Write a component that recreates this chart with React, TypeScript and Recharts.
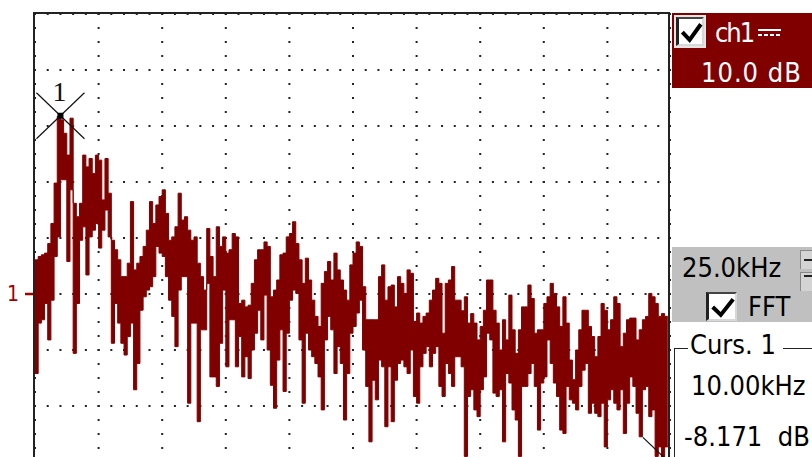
import {
  ComposedChart,
  Area,
  XAxis,
  YAxis,
  CartesianGrid,
  ReferenceDot,
} from "recharts";

// FFT bins, 1.25 kHz wide, 25 kHz / div
const binWidthKHz = 1.25;
const freqTicksKHz = [25, 50, 75, 100, 125, 150, 175, 200, 225];
const levelTicksDb = [-60, -50, -40, -30, -20, -10, 0];
const refLevelDb = -40;

// top of the trace in each bin (dB)
const peakDb = [
  -33.9, -33.3, -33.0, -32.7, -31.0, -27.4, -20.2, -8.3, -8.9, -11.3,
  -15.2, -8.6, -23.8, -26.2, -23.8, -15.2, -17.3, -15.8, -18.5, -15.2,
  -16.1, -23.2, -15.8, -22.0, -30.4, -32.1, -33.9, -36.9, -36.9, -34.5,
  -23.5, -35.7, -34.5, -33.3, -31.5, -28.6, -23.5, -27.4, -24.1, -22.6,
  -21.4, -25.6, -30.4, -29.8, -28.0, -22.0, -26.8, -26.2, -28.6, -30.4,
  -29.8, -34.5, -36.9, -39.3, -28.3, -33.3, -36.9, -28.0, -31.5, -29.8,
  -32.7, -32.1, -29.2, -29.8, -41.7, -41.1, -42.3, -42.0, -38.1, -33.9,
  -32.1, -32.1, -30.7, -31.5, -40.5, -39.3, -37.5, -33.0, -32.7, -29.8,
  -29.2, -27.1, -31.0, -33.9, -38.1, -33.6, -37.5, -41.1, -44.0, -45.8,
  -38.1, -36.0, -34.2, -37.5, -32.7, -35.7, -37.5, -39.3, -41.1, -34.8,
  -32.7, -30.7, -31.5, -38.7, -44.6, -44.6, -44.6, -44.6, -36.9, -34.8,
  -41.1, -38.7, -38.4, -42.3, -36.9, -38.1, -39.9, -35.7, -36.3, -44.9,
  -43.4, -45.2, -44.0, -43.4, -41.1, -39.3, -37.2, -38.1, -47.0, -38.1,
  -37.5, -35.1, -41.1, -41.1, -43.0, -40.5, -45.2, -43.5, -45.2, -48.2,
  -45.8, -42.9, -37.5, -37.5, -42.9, -45.2, -50.0, -44.6, -48.2, -40.2,
  -46.4, -50.6, -46.4, -42.3, -42.3, -38.4, -40.8, -47.0, -46.4, -46.4,
  -41.7, -40.5, -38.1, -39.9, -42.3, -45.8, -40.5, -45.2, -51.8, -55.3,
  -50.0, -46.4, -42.9, -42.9, -45.8, -47.6, -51.2, -47.6, -41.7, -42.9,
  -46.4, -44.6, -40.5, -41.7, -49.4, -47.0, -44.6, -44.3, -44.3, -48.2,
  -46.4, -44.6, -44.0, -39.9, -40.5, -41.7, -44.0, -43.5, -44.0,
];

// bottom of the trace in each bin (dB)
const floorDb = [
  -54.2, -45.2, -44.6, -41.7, -48.2, -41.1, -33.3, -29.8, -19.6, -19.6,
  -34.2, -21.4, -50.6, -41.7, -30.4, -28.0, -36.6, -29.8, -28.6, -27.4,
  -31.8, -28.6, -25.0, -29.8, -48.8, -41.7, -45.2, -48.8, -50.9, -47.6,
  -45.2, -57.1, -52.4, -42.9, -40.5, -39.3, -38.7, -36.9, -31.5, -32.7,
  -33.3, -36.9, -41.1, -44.0, -49.4, -39.3, -36.9, -36.9, -59.5, -45.2,
  -45.2, -62.8, -46.4, -46.4, -38.1, -54.8, -54.8, -56.5, -48.8, -39.3,
  -53.0, -44.6, -44.6, -53.0, -47.6, -54.8, -51.2, -55.1, -50.0, -47.0,
  -42.9, -48.2, -40.2, -50.0, -56.3, -60.4, -51.8, -46.4, -57.4, -47.0,
  -41.1, -39.3, -39.9, -48.2, -59.5, -47.0, -50.0, -51.2, -52.4, -54.8,
  -60.7, -48.2, -44.0, -46.4, -54.2, -49.4, -52.4, -62.5, -54.2, -47.0,
  -45.8, -43.4, -41.1, -50.0, -56.5, -66.4, -55.4, -58.9, -51.8, -53.0,
  -63.7, -53.0, -62.8, -55.4, -52.4, -51.8, -53.0, -54.2, -50.0, -58.3,
  -59.5, -53.0, -50.6, -49.4, -53.0, -50.6, -49.4, -56.5, -58.3, -52.4,
  -54.2, -56.5, -51.2, -51.2, -53.0, -69.0, -58.3, -57.1, -60.7, -61.9,
  -57.1, -54.8, -47.0, -48.2, -57.7, -58.3, -57.1, -66.4, -54.2, -55.9,
  -60.7, -62.5, -69.0, -56.5, -56.5, -54.2, -52.4, -56.5, -64.3, -55.9,
  -54.8, -48.2, -52.4, -55.9, -58.3, -64.3, -64.9, -56.5, -58.9, -59.5,
  -60.7, -56.5, -53.6, -52.4, -61.3, -59.5, -61.3, -61.9, -59.5, -67.3,
  -58.9, -57.1, -59.5, -60.7, -57.1, -64.9, -59.5, -54.8, -56.5, -61.3,
  -65.5, -57.1, -56.5, -61.9, -60.7, -69.0, -67.3, -70.0, -67.3,
];

const cursor1 = { freqKHz: 10, levelDb: -8.171, label: "1" };
const cursor2 = { freqKHz: 248.4, levelDb: -69.7 };

const channelLabel = "ch1";
const scaleLabel = "10.0 dB";
const spanLabel = "25.0kHz";
const fftLabel = "FFT";
const cursTitle = "Curs. 1";
const cursFreq = "10.00kHz";
const cursLevel = "-8.171  dB";

const trace = peakDb.map((hi, i) => ({
  f: i * binWidthKHz,
  band: [floorDb[i], hi],
}));
const last = peakDb.length - 1;
trace.push({ f: peakDb.length * binWidthKHz, band: [floorDb[last], peakDb[last]] });

const RED = "#800000";
const panelFont = "'DejaVu Sans Condensed', 'DejaVu Sans', sans-serif";

// ch1 reference level marker, left of the screen
function RefMarker(props: any) {
  const { cx, cy } = props;
  return (
    <g>
      <line x1={cx - 10} y1={cy} x2={cx} y2={cy} stroke="#a00000" strokeWidth={2.5} />
      <text
        x={cx - 22}
        y={cy + 7}
        textAnchor="middle"
        fontFamily={panelFont}
        fontSize={21}
        fill="#a00000"
      >
        1
      </text>
    </g>
  );
}

function CursorCross(props: any) {
  const { cx, cy } = props;
  return (
    <g>
      <line x1={cx - 24} y1={cy - 23} x2={cx + 24} y2={cy + 23} stroke="#111" strokeWidth={1.2} />
      <line x1={cx - 24} y1={cy + 23} x2={cx + 24} y2={cy - 23} stroke="#111" strokeWidth={1.2} />
      <rect x={cx - 3} y={cy - 3} width={6} height={6} fill="#000" />
      <text
        x={cx - 1}
        y={cy - 15}
        textAnchor="middle"
        fontFamily="'Liberation Serif', serif"
        fontSize={28}
        fill="#111"
      >
        {cursor1.label}
      </text>
    </g>
  );
}

function CursorArm(props: any) {
  const { cx, cy } = props;
  return <line x1={cx - 24} y1={cy - 23} x2={cx} y2={cy} stroke="#111" strokeWidth={1.2} />;
}

function Txt({ x, cy, size = 27, color = "#000", spacing = 0, children }: any) {
  return (
    <div
      style={{
        position: "absolute",
        left: x,
        top: cy - size * 0.5,
        fontSize: size,
        lineHeight: `${size}px`,
        fontFamily: panelFont,
        color,
        letterSpacing: spacing,
        whiteSpace: "pre",
      }}
    >
      {children}
    </div>
  );
}

function CheckBox({ x, y, w, h }: any) {
  return (
    <div
      style={{
        position: "absolute",
        left: x,
        top: y,
        width: w,
        height: h,
        background: "#fff",
        borderLeft: "3px solid #222",
        borderTop: "2px solid #444",
        borderRight: "2px solid #d8d8d8",
        borderBottom: "2px solid #d8d8d8",
        boxSizing: "border-box",
      }}
    >
      <svg width={w} height={h} style={{ position: "absolute", left: 0, top: 0 }}>
        <polyline
          points={`${w * 0.12},${h * 0.45} ${w * 0.38},${h * 0.72} ${w * 0.78},${h * 0.18}`}
          fill="none"
          stroke="#000"
          strokeWidth={4}
        />
      </svg>
    </div>
  );
}

export default function App() {
  return (
    <div
      style={{
        position: "absolute",
        left: 0,
        top: 0,
        width: 812,
        height: 457,
        overflow: "hidden",
        background: "#fff",
      }}
    >
      <ComposedChart
        width={671}
        height={462}
        data={trace}
        margin={{ top: 14, right: 0, bottom: 0, left: 35 }}
      >
        <XAxis dataKey="f" type="number" domain={[0, 250]} ticks={freqTicksKHz} hide />
        <YAxis
          type="number"
          domain={[-70, 10]}
          ticks={levelTicksDb}
          allowDataOverflow
          hide
        />
        <Area
          type="stepAfter"
          dataKey="band"
          stroke={RED}
          strokeWidth={1}
          fill={RED}
          fillOpacity={1}
          dot={false}
          activeDot={false}
          isAnimationActive={false}
        />
        <CartesianGrid
          vertical={false}
          stroke="#222"
          strokeWidth={2}
          strokeDasharray="2 10.72"
          strokeDashoffset={1}
        />
        <CartesianGrid
          horizontal={false}
          stroke="#222"
          strokeWidth={2}
          strokeDasharray="2 12"
          strokeDashoffset={1}
        />
        <ReferenceDot x={0} y={refLevelDb} ifOverflow="visible" shape={RefMarker} />
        <ReferenceDot
          x={cursor1.freqKHz}
          y={cursor1.levelDb}
          ifOverflow="visible"
          shape={CursorCross}
        />
        <ReferenceDot
          x={cursor2.freqKHz}
          y={cursor2.levelDb}
          ifOverflow="visible"
          shape={CursorArm}
        />
      </ComposedChart>

      {/* plot frame */}
      <div
        style={{
          position: "absolute",
          left: 33,
          top: 12,
          width: 637,
          height: 470,
          border: "2px solid #222",
          boxSizing: "border-box",
          pointerEvents: "none",
        }}
      />

      {/* channel box */}
      <div style={{ position: "absolute", left: 672, top: 13, width: 140, height: 75, background: RED }} />
      <div style={{ position: "absolute", left: 674, top: 15, width: 32, height: 33, background: "#e4e4e4" }} />
      <CheckBox x={676} y={17} w={28} h={29} />
      <Txt x={715} cy={32} color="#fff" spacing={-2}>{channelLabel}</Txt>
      <svg width={24} height={12} style={{ position: "absolute", left: 758, top: 27 }}>
        <line x1={0} y1={3} x2={23} y2={3} stroke="#fff" strokeWidth={2} />
        <line x1={0} y1={8} x2={23} y2={8} stroke="#fff" strokeWidth={2} strokeDasharray="4 2" />
      </svg>
      <Txt x={701} cy={72} color="#fff" spacing={1}>{scaleLabel}</Txt>

      {/* timebase / FFT panel */}
      <div style={{ position: "absolute", left: 672, top: 247, width: 140, height: 75, background: "#c0c0c0" }} />
      <Txt x={682} cy={267}>{spanLabel}</Txt>
      <div style={{ position: "absolute", left: 800, top: 250, width: 12, height: 18, background: "#d4d4d4", borderLeft: "1px solid #888", borderTop: "1px solid #888" }}>
        <div style={{ position: "absolute", left: 3, top: 8, width: 9, height: 2, background: "#222" }} />
      </div>
      <div style={{ position: "absolute", left: 800, top: 272, width: 12, height: 18, background: "#d4d4d4", borderLeft: "1px solid #888", borderTop: "1px solid #888" }}>
        <div style={{ position: "absolute", left: 3, top: 2, width: 9, height: 2, background: "#222" }} />
      </div>
      <CheckBox x={706} y={292} w={31} h={29} />
      <Txt x={748} cy={306}>{fftLabel}</Txt>

      {/* cursor readout */}
      <div style={{ position: "absolute", left: 674, top: 348, width: 1, height: 120, background: "#222" }} />
      <div style={{ position: "absolute", left: 674, top: 348, width: 14, height: 1, background: "#222" }} />
      <div style={{ position: "absolute", left: 783, top: 348, width: 29, height: 1, background: "#222" }} />
      <Txt x={690} cy={344}>{cursTitle}</Txt>
      <Txt x={691} cy={385}>{cursFreq}</Txt>
      <Txt x={684} cy={436}>{cursLevel}</Txt>
    </div>
  );
}
